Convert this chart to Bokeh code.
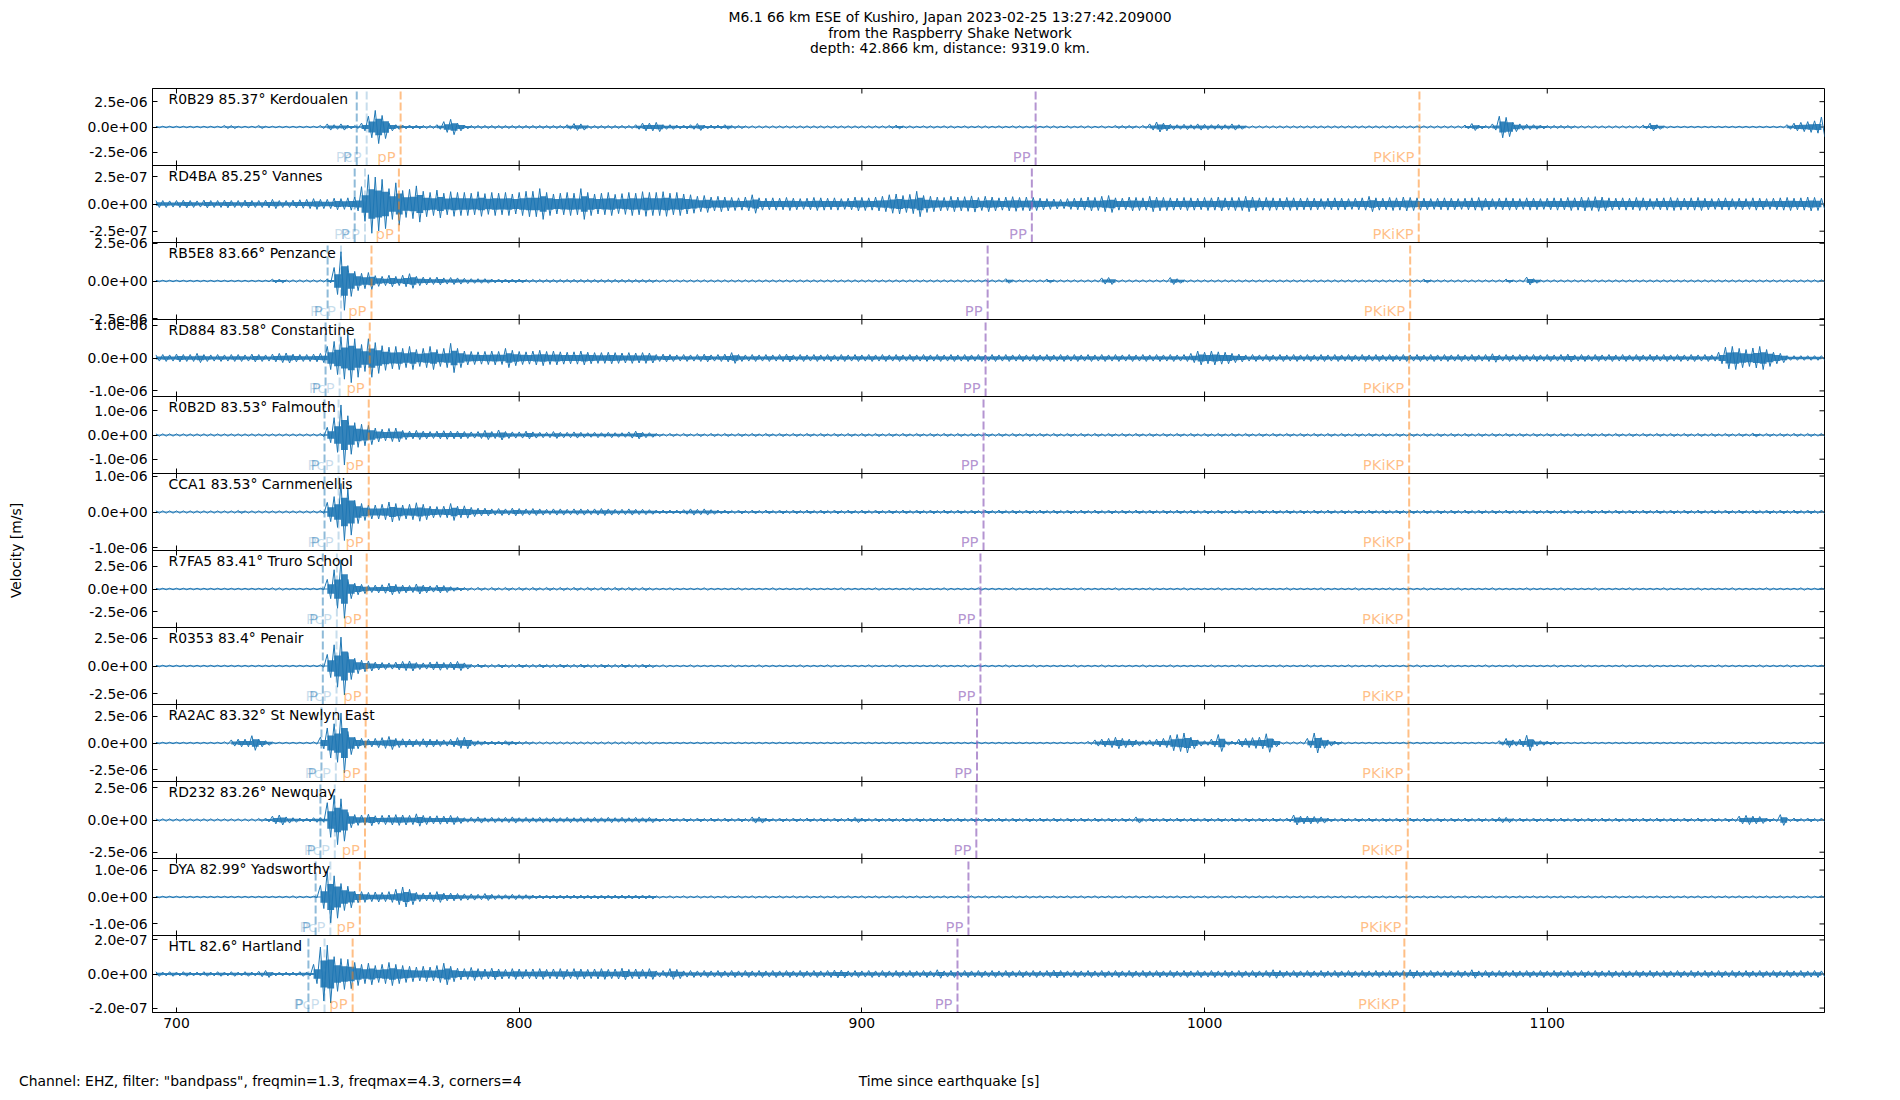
from bokeh.plotting import figure
from bokeh.models import Range1d, FixedTicker, CustomJSTickFormatter, LinearAxis, Span, Div
from bokeh.layouts import column
from bokeh.core.properties import value
from bokeh.embed import file_html
from bokeh.resources import INLINE

# ---------------- texts ----------------
title_lines = [
    "M6.1 66 km ESE of Kushiro, Japan 2023-02-25 13:27:42.209000",
    "from the Raspberry Shake Network",
    "depth: 42.866 km, distance: 9319.0 km.",
]
footer_left = 'Channel: EHZ, filter: "bandpass", freqmin=1.3, freqmax=4.3, corners=4'
x_label = "Time since earthquake [s]"
y_label = "Velocity [m/s]"

# ---------------- stations ----------------
stations = ["R0B29", "RD4BA", "RB5E8", "RD884", "R0B2D", "CCA1",
            "R7FA5", "R0353", "RA2AC", "RD232", "DYA", "HTL"]
distances = ["85.37", "85.25", "83.66", "83.58", "83.53", "83.53",
             "83.41", "83.4", "83.32", "83.26", "82.99", "82.6"]
places = ["Kerdoualen", "Vannes", "Penzance", "Constantine", "Falmouth", "Carnmenellis",
          "Truro School", "Penair", "St Newlyn East", "Newquay", "Yadsworthy", "Hartland"]

# half range of each panel's velocity axis [m/s] and its labelled tick value
half_range = [3.8e-6, 3.54e-7, 2.55e-6, 1.17e-6, 1.59e-6, 1.07e-6,
              4.25e-6, 3.44e-6, 3.63e-6, 2.99e-6, 1.43e-6, 2.26e-7]
tick_value = [2.5e-6, 2.5e-7, 2.5e-6, 1.0e-6, 1.0e-6, 1.0e-6,
              2.5e-6, 2.5e-6, 2.5e-6, 2.5e-6, 1.0e-6, 2.0e-7]

x_ticks = [700, 800, 900, 1000, 1100]

# phase arrival times [s since earthquake]
t_P = [752.6, 752.0, 744.1, 743.5, 743.2, 743.2, 742.7, 742.7, 742.3, 742.0, 740.6, 738.5]
t_PcP = [755.5, 755.0, 748.0, 747.6, 747.3, 747.3, 746.8, 746.7, 746.5, 746.2, 744.9, 743.2]
t_pP = [765.4, 764.9, 756.9, 756.4, 756.1, 756.1, 755.5, 755.5, 755.2, 755.0, 753.5, 751.4]
t_PP = [950.7, 949.6, 936.7, 936.1, 935.5, 935.5, 934.6, 934.6, 933.6, 933.4, 931.1, 927.9]
t_PKiKP = [1062.7, 1062.5, 1060.0, 1059.7, 1059.7, 1059.7, 1059.5, 1059.5, 1059.5, 1059.3, 1058.9, 1058.3]

# trace peak amplitude in each 2 s window (694 ... 1180 s), percent of panel half range
t_grid = list(range(694, 1181, 2))

env_R0B29 = [
    2, 2, 2, 2, 2, 2, 2, 2, 2, 2,
    4, 4, 2, 2, 2, 4, 2, 2, 2, 2,
    2, 2, 2, 2, 4, 8, 6, 8, 5, 4,
    10, 28, 43, 30, 10, 6, 5, 5, 5, 4,
    4, 6, 14, 20, 10, 5, 4, 4, 4, 4,
    4, 4, 4, 4, 4, 4, 4, 4, 4, 4,
    6, 9, 8, 4, 4, 4, 4, 4, 4, 4,
    6, 10, 10,
    12, 6, 6, 5, 5, 6, 9, 5, 5, 5,
    6, 4, 4, 3, 3, 3, 3, 3, 3, 3,
    3, 3, 3, 3, 3, 3, 3, 3, 3, 3,
    3, 3, 3, 3, 4, 5, 3, 3, 2, 3,
    3, 2, 3, 3, 2, 3, 2, 3, 3, 2,
    3, 2, 3, 3, 2, 3, 2, 3, 3, 2,
    3, 2, 3, 3, 2, 3, 2, 4, 4, 4,
    3, 4, 8, 13, 10, 7, 6, 7, 6, 8,
    7, 6, 7, 6, 8, 6, 3, 3, 3, 3,
    3, 3, 3, 3, 3, 3, 3, 3, 3, 3,
    3, 3, 3, 3, 3, 3, 3, 3, 3, 3,
    3, 3, 3, 3, 3, 3, 3, 3, 5, 9,
    5, 4, 8, 28, 25, 12, 8, 7, 6, 5,
    4, 4, 4, 4, 3, 3, 3, 3, 3, 3,
    3, 3, 3, 3, 5, 10, 6, 3, 2, 2,
    2, 2, 2, 2, 2, 2, 2, 2, 2, 2,
    2, 2, 2, 2, 2, 6, 10, 12, 14, 16,
    26]

env_RD4BA = [
    9, 9, 8, 9, 10, 9, 8, 10, 9, 9,
    10, 9, 9, 10, 9, 9, 10, 12, 9, 9,
    10, 11, 12, 14, 12, 12, 15, 14, 16, 18,
    45, 76, 70, 64, 40, 55, 35, 38, 47, 33,
    30, 36, 28, 32, 30, 30, 28, 32, 27, 30,
    28, 30, 26, 30, 33, 33, 40, 30, 26, 28,
    30, 28, 40, 30, 26, 28, 30, 25, 27, 30,
    28, 32, 30,
    30, 32, 28, 30, 26, 24, 20, 22, 18, 20,
    18, 17, 16, 18, 24, 16, 15, 16, 15, 17,
    15, 14, 15, 17, 16, 15, 16, 14, 15, 18,
    17, 16, 18, 20, 24, 26, 22, 25, 33, 22,
    20, 18, 17, 20, 18, 19, 21, 17, 20, 18,
    16, 18, 19, 17, 18, 17, 15, 14, 13, 12,
    14, 15, 16, 18, 17, 20, 22, 16, 15, 18,
    17, 16, 20, 18, 17, 16, 15, 17, 16, 15,
    17, 16, 18, 16, 17, 17,
    20, 18, 16, 17, 16, 15, 17, 16, 15, 16,
    15, 14, 15, 16, 15, 14, 15, 16, 20, 16,
    15, 17, 16, 18, 17, 16, 15, 14, 15, 16,
    15, 14, 15, 16, 17, 15, 14, 15, 16, 15,
    14, 16, 15, 14, 15, 16, 15, 17, 16, 18,
    17, 19, 18, 16, 15, 16, 15, 17, 16, 14,
    15, 16, 17, 16, 15, 16, 17, 15, 14, 15,
    16, 14, 15, 14, 16, 15, 14, 15, 16, 17,
    15, 16, 18, 17, 15]

env_RB5E8 = [
    2, 2, 2, 2, 2, 2, 2, 2, 2, 2,
    2, 2, 2, 2, 2, 2, 2, 5, 5, 3,
    3, 3, 3, 3, 3, 5, 35, 76, 40, 25,
    20, 22, 14, 12, 15, 12, 15, 19, 12, 10,
    9, 10, 8, 9, 8, 7, 6, 6, 6, 5,
    5, 5, 5, 5, 4, 4, 4, 4, 4, 4,
    4, 4, 4, 4, 4, 4, 4, 4, 4, 4,
    4, 4, 4,
    3, 3, 3, 3, 3, 3, 3, 3, 3, 3,
    3, 3, 3, 3, 3, 3, 3, 3, 3, 3,
    3, 3, 3, 3, 3, 3, 3, 3, 3, 3,
    3, 3, 3, 3, 3, 3, 3, 3, 3, 3,
    3, 3, 3, 3, 3, 3, 3, 3, 3, 3,
    3, 6, 3, 3, 3, 3, 3, 5, 3, 3,
    3, 3, 3, 3, 3, 8, 9, 3, 3, 3,
    3, 3, 3, 3, 3, 9, 6, 3, 3, 3,
    3, 3, 3, 3, 3, 3, 3, 3, 3, 3,
    3, 3, 3, 3, 3, 3, 3, 3, 3, 3,
    3, 3, 3, 3, 3, 3, 3, 3, 3, 3,
    3, 3, 5, 3, 3, 3, 3, 3, 3, 3,
    3, 3, 3, 3, 5, 3, 3, 10, 6, 3,
    3, 3, 3, 3, 3, 3, 3, 3, 3, 3,
    3, 3, 3, 3, 3, 3, 3, 3, 3, 3,
    3, 3, 3, 3, 3, 3, 3, 3, 3, 3,
    3, 3, 3, 3, 3, 3, 3, 3, 3, 3,
    3]

env_RD884 = [
    8, 9, 8, 10, 9, 9, 12, 9, 8, 9,
    8, 9, 9, 8, 10, 9, 8, 10, 12, 13,
    10, 9, 9, 10, 12, 30, 43, 55, 64, 50,
    35, 50, 40, 32, 28, 30, 25, 30, 22, 25,
    30, 22, 25, 38, 25, 18, 17, 16, 17, 18,
    17, 25, 20, 17, 16, 18, 20, 17, 18, 16,
    15, 16, 18, 15, 14, 14, 15, 14, 13, 14,
    13, 14, 13,
    9, 10, 9, 8, 9, 8, 9, 10, 8, 9,
    10, 14, 9, 8, 9, 8, 9, 8, 9, 10,
    8, 9, 8, 9, 8, 9, 8, 9, 8, 9,
    8, 9, 8, 9, 8, 9, 8, 9, 8, 9,
    8, 9, 8, 9, 8, 9, 8, 9, 8, 9,
    8, 9, 8, 9, 8, 9, 8, 9, 8, 9,
    8, 9, 8, 9, 8, 9, 8, 9, 8, 9,
    8, 9, 8, 9, 8, 9, 8, 9, 12, 18,
    15, 18, 16, 15, 12, 10, 8, 9, 8, 9,
    8, 9, 8, 9, 8, 9, 8, 9, 8, 9,
    8, 9, 8, 9, 8, 9, 8, 9, 8, 9,
    8, 9, 8, 9, 8, 9, 8, 9, 8, 9,
    8, 9, 11, 8, 9, 8, 9, 8, 9, 8,
    9, 8, 9, 10, 8, 9, 8, 9, 8, 9,
    8, 9, 8, 9, 8, 9, 8, 9, 8, 9,
    8, 9, 8, 9, 8, 15, 28, 30, 25, 22,
    26, 30, 22, 15, 12, 6, 6, 6, 6, 6,
    6]

env_R0B2D = [
    3, 3, 3, 3, 3, 3, 3, 3, 3, 3,
    3, 3, 3, 3, 3, 3, 3, 3, 3, 3,
    3, 3, 3, 3, 4, 20, 45, 78, 50, 32,
    28, 25, 18, 15, 17, 18, 12, 10, 12, 10,
    9, 10, 11, 10, 10, 9, 8, 9, 12, 9,
    13, 9, 8, 8, 10, 8, 7, 7, 9, 7,
    7, 8, 7, 6, 7, 6, 7, 6, 6, 8,
    10, 7, 6,
    4, 3, 4, 3, 4, 3, 4, 3, 4, 3,
    4, 3, 4, 3, 4, 3, 4, 3, 4, 3,
    4, 3, 4, 3, 4, 3, 4, 3, 4, 3,
    4, 3, 4, 3, 4, 3, 4, 3, 4, 3,
    4, 3, 4, 3, 4, 3, 4, 3, 4, 3,
    4, 3, 4, 3, 4, 3, 4, 3, 4, 3,
    4, 3, 4, 3, 4, 3, 4, 3, 4, 3,
    4, 3, 4, 3, 4, 3, 4, 3, 4, 3,
    4, 3, 4, 3, 4, 3, 4, 3, 4, 3,
    4, 3, 4, 3, 4, 3, 4, 3, 4, 3,
    4, 3, 4, 3, 4, 3, 4, 3, 4, 3,
    4, 3, 4, 3, 4, 3, 4, 3, 4, 3,
    4, 3, 4, 3, 4, 3, 4, 3, 4, 3,
    4, 3, 4, 3, 4, 3, 4, 3, 4, 3,
    4, 3, 4, 3, 4, 3, 4, 3, 4, 3,
    4, 3, 4, 3, 4, 3, 4, 3, 4, 3,
    5, 3, 4, 3, 4, 3, 4, 3, 4, 3,
    4]

env_CCA1 = [
    3, 3, 3, 3, 3, 3, 3, 3, 3, 3,
    3, 3, 4, 3, 3, 3, 3, 3, 3, 3,
    3, 3, 3, 3, 4, 25, 40, 74, 60, 30,
    22, 18, 18, 20, 26, 22, 18, 20, 24, 20,
    15, 14, 15, 22, 15, 16, 12, 10, 10, 8,
    9, 8, 10, 9, 8, 9, 8, 7, 8, 8,
    7, 8, 8, 7, 8, 9, 8, 7, 7, 8,
    7, 7, 6,
    5, 5, 5, 5, 6, 8, 7, 8, 6, 5,
    5, 4, 5, 4, 5, 4, 5, 4, 5, 4,
    5, 4, 5, 4, 5, 4, 5, 4, 5, 4,
    5, 4, 5, 4, 5, 4, 5, 4, 5, 4,
    5, 4, 5, 4, 5, 4, 5, 4, 5, 4,
    5, 4, 5, 4, 5, 4, 5, 4, 5, 4,
    5, 4, 5, 4, 5, 4, 5, 4, 5, 4,
    5, 4, 5, 4, 5, 4, 5, 4, 5, 4,
    5, 4, 5, 4, 5, 4, 5, 4, 5, 4,
    5, 4, 5, 4, 5, 4, 5, 4, 5, 4,
    5, 4, 5, 4, 5, 4, 5, 4, 5, 4,
    5, 4, 5, 4, 5, 4, 5, 4, 5, 4,
    5, 4, 5, 4, 5, 4, 5, 4, 5, 4,
    5, 4, 5, 4, 5, 4, 5, 4, 5, 4,
    5, 4, 5, 4, 5, 4, 5, 4, 5, 4,
    5, 4, 5, 4, 5, 4, 5, 4, 5, 4,
    5, 4, 5, 4, 5, 4, 5, 4, 5, 4,
    5]

env_R7FA5 = [
    2, 2, 2, 2, 2, 2, 2, 2, 2, 2,
    2, 2, 2, 2, 2, 2, 2, 3, 3, 2,
    2, 2, 2, 2, 2, 25, 50, 76, 25, 15,
    12, 9, 10, 11, 15, 12, 10, 9, 13, 10,
    8, 10, 9, 6, 5, 4, 3, 4, 3, 4,
    3, 4, 3, 4, 3, 4, 3, 4, 3, 4,
    3, 4, 3, 4, 3, 4, 3, 4, 3, 4,
    3, 4, 3,
    2, 2, 3, 2, 2, 2, 2, 3, 2, 2,
    2, 2, 3, 2, 2, 2, 2, 3, 2, 2,
    2, 2, 3, 2, 2, 2, 2, 3, 2, 2,
    2, 2, 3, 2, 2, 2, 2, 3, 2, 2,
    2, 2, 3, 2, 2, 2, 2, 3, 2, 2,
    2, 2, 3, 2, 2, 2, 2, 3, 2, 2,
    2, 2, 3, 2, 2, 2, 2, 3, 2, 2,
    2, 2, 3, 2, 2, 2, 2, 3, 2, 2,
    2, 2, 3, 2, 2, 2, 2, 3, 2, 2,
    2, 2, 3, 2, 2, 2, 2, 3, 2, 2,
    2, 2, 3, 2, 2, 2, 2, 3, 2, 2,
    2, 2, 3, 2, 2, 2, 2, 3, 2, 2,
    2, 2, 3, 2, 2, 2, 2, 3, 2, 2,
    2, 2, 3, 2, 2, 2, 2, 3, 2, 2,
    2, 2, 3, 2, 2, 2, 2, 3, 2, 2,
    2, 2, 3, 2, 2, 2, 2, 3, 2, 2,
    2, 2, 3, 2, 2, 2, 2, 3, 2, 2,
    2]

env_R0353 = [
    2, 2, 2, 2, 2, 2, 2, 2, 2, 2,
    2, 2, 2, 2, 2, 2, 2, 2, 2, 2,
    2, 2, 2, 2, 3, 30, 55, 75, 35, 20,
    15, 13, 10, 9, 8, 10, 12, 13, 9, 8,
    10, 11, 9, 10, 12, 8, 4, 5, 4, 4,
    5, 4, 4, 5, 4, 4, 5, 4, 4, 5,
    4, 4, 5, 4, 4, 5, 4, 4, 5, 4,
    4, 5, 4,
    2, 3, 2, 2, 2, 3, 2, 2, 2, 2,
    2, 3, 2, 2, 2, 3, 2, 2, 2, 2,
    2, 3, 2, 2, 2, 3, 2, 2, 2, 2,
    2, 3, 2, 2, 2, 3, 2, 2, 2, 2,
    2, 3, 2, 2, 2, 3, 2, 2, 2, 2,
    2, 3, 2, 2, 2, 3, 2, 2, 2, 2,
    2, 3, 2, 2, 2, 3, 2, 2, 2, 2,
    2, 3, 2, 2, 2, 3, 2, 2, 2, 2,
    2, 3, 2, 2, 2, 3, 2, 2, 2, 2,
    2, 3, 2, 2, 2, 3, 2, 2, 2, 2,
    2, 3, 2, 2, 2, 3, 2, 2, 2, 2,
    2, 3, 2, 2, 2, 3, 2, 2, 2, 2,
    2, 3, 2, 2, 2, 3, 2, 2, 2, 2,
    2, 3, 2, 2, 2, 3, 2, 2, 2, 2,
    2, 3, 2, 2, 2, 3, 2, 2, 2, 2,
    2, 3, 2, 2, 2, 3, 2, 2, 2, 2,
    2, 3, 2, 2, 2, 3, 2, 2, 2, 2,
    2]

env_RA2AC = [
    2, 2, 2, 2, 2, 2, 2, 2, 2, 2,
    3, 8, 10, 10, 19, 10, 6, 2, 2, 2,
    2, 2, 2, 3, 15, 39, 50, 78, 30, 15,
    12, 10, 12, 14, 17, 12, 11, 10, 9, 11,
    10, 9, 8, 10, 14, 15, 8, 6, 5, 5,
    5, 6, 5, 4, 4, 3, 3, 3, 3, 3,
    3, 3, 3, 3, 3, 3, 3, 3, 3, 3,
    3, 3, 3,
    2, 2, 2, 2, 2, 2, 2, 2, 2, 2,
    2, 2, 2, 2, 2, 2, 2, 2, 2, 2,
    2, 2, 2, 2, 2, 2, 2, 2, 2, 2,
    2, 2, 2, 2, 2, 2, 2, 2, 2, 2,
    2, 2, 2, 2, 2, 2, 2, 2, 2, 2,
    2, 2, 2, 2, 2, 2, 2, 2, 2, 2,
    2, 2, 2, 4, 8, 10, 12, 15, 12, 10,
    8, 6, 8, 10, 12, 20, 22, 26, 15, 8,
    6, 10, 22, 6, 5, 10, 12, 14, 15, 24,
    10, 3, 3, 3, 3, 12, 26, 14, 8, 5,
    3, 2, 2, 2, 2, 2, 2, 2, 2, 2,
    2, 2, 2, 2, 2, 2, 2, 2, 2, 2,
    2, 2, 2, 6, 12, 8, 10, 20, 8, 6,
    5, 4, 2, 2, 2, 2, 2, 2, 2, 2,
    2, 2, 2, 2, 2, 2, 2, 2, 2, 2,
    2, 2, 2, 2, 2, 2, 2, 2, 2, 2,
    2, 2, 2, 2, 2, 2, 2, 2, 2, 2,
    2]

env_RD232 = [
    3, 3, 3, 3, 3, 3, 3, 3, 3, 3,
    3, 3, 3, 3, 3, 4, 5, 10, 13, 8,
    6, 5, 5, 6, 6, 45, 64, 55, 20, 14,
    13, 15, 11, 12, 13, 14, 13, 12, 16, 12,
    10, 11, 10, 12, 9, 6, 7, 8, 6, 7,
    6, 7, 8, 6, 7, 6, 7, 6, 7, 6,
    7, 6, 7, 6, 7, 6, 7, 6, 7, 6,
    7, 6, 7,
    5, 4, 5, 4, 5, 4, 5, 4, 5, 4,
    5, 4, 5, 4, 8, 8, 5, 4, 5, 4,
    5, 4, 5, 4, 5, 4, 5, 4, 5, 7,
    5, 4, 5, 4, 5, 4, 5, 4, 5, 4,
    5, 4, 5, 4, 5, 4, 5, 4, 5, 4,
    5, 4, 5, 4, 5, 4, 5, 4, 5, 4,
    5, 4, 5, 4, 5, 4, 5, 4, 5, 4,
    8, 4, 5, 4, 5, 4, 5, 4, 5, 4,
    5, 4, 5, 4, 5, 4, 5, 4, 5, 4,
    5, 4, 5, 13, 10, 10, 9, 8, 5, 4,
    5, 4, 5, 4, 5, 4, 5, 4, 5, 4,
    5, 4, 5, 4, 5, 4, 5, 4, 5, 4,
    5, 4, 5, 7, 7, 4, 5, 4, 5, 4,
    5, 4, 5, 4, 5, 4, 5, 4, 5, 4,
    5, 4, 5, 4, 5, 4, 5, 4, 5, 4,
    5, 4, 5, 4, 5, 4, 5, 4, 10, 12,
    10, 9, 5, 4, 14, 4, 5, 4, 5, 4,
    5]

env_DYA = [
    2, 2, 2, 2, 2, 2, 2, 2, 2, 2,
    2, 2, 2, 2, 2, 2, 2, 2, 2, 2,
    3, 2, 2, 2, 30, 67, 55, 35, 28, 15,
    14, 12, 13, 12, 14, 20, 26, 20, 12, 10,
    12, 14, 10, 10, 9, 8, 8, 7, 9, 7,
    6, 6, 7, 6, 6, 5, 5, 5, 5, 5,
    5, 5, 5, 5, 5, 5, 5, 5, 5, 5,
    5, 5, 5,
    3, 2, 3, 2, 3, 2, 3, 2, 3, 2,
    3, 2, 3, 2, 3, 2, 3, 2, 3, 2,
    3, 2, 3, 2, 3, 2, 3, 2, 3, 2,
    3, 2, 3, 2, 3, 2, 3, 2, 3, 2,
    3, 2, 3, 2, 3, 2, 3, 2, 3, 2,
    3, 2, 3, 2, 3, 2, 3, 2, 3, 2,
    3, 2, 3, 2, 3, 2, 3, 2, 3, 2,
    3, 2, 3, 2, 3, 2, 3, 2, 3, 2,
    3, 2, 3, 2, 3, 2, 3, 2, 3, 2,
    3, 2, 3, 2, 3, 2, 3, 2, 3, 2,
    3, 2, 3, 2, 3, 2, 3, 2, 3, 2,
    3, 2, 3, 2, 3, 2, 3, 2, 3, 2,
    3, 2, 3, 2, 3, 2, 3, 2, 3, 2,
    3, 2, 3, 2, 3, 2, 3, 2, 3, 2,
    3, 2, 3, 2, 3, 2, 3, 2, 3, 2,
    3, 2, 3, 2, 3, 2, 3, 2, 3, 2,
    3, 2, 3, 2, 3, 2, 3, 2, 3, 2,
    3]

env_HTL = [
    6, 5, 6, 5, 6, 5, 5, 6, 5, 6,
    5, 6, 5, 6, 5, 7, 9, 5, 5, 5,
    5, 6, 5, 25, 70, 75, 45, 40, 38, 30,
    25, 28, 22, 25, 30, 25, 22, 20, 18, 20,
    18, 22, 28, 20, 15, 14, 17, 14, 13, 15,
    13, 12, 14, 13, 12, 13, 14, 12, 13, 14,
    12, 14, 13, 12, 13, 14, 12, 13, 15, 12,
    13, 12, 14,
    8, 9, 14, 12, 8, 9, 8, 9, 8, 9,
    8, 9, 8, 9, 8, 9, 8, 9, 8, 9,
    8, 9, 8, 9, 8, 9, 10, 10, 8, 9,
    8, 9, 8, 9, 8, 9, 8, 9, 8, 9,
    8, 11, 8, 9, 8, 9, 8, 9, 8, 9,
    8, 9, 8, 9, 8, 9, 8, 9, 10, 9,
    8, 9, 8, 9, 8, 9, 8, 9, 8, 9,
    8, 9, 8, 9, 8, 9, 8, 9, 8, 9,
    8, 9, 8, 9, 8, 9, 8, 9, 8, 9,
    11, 9, 8, 9, 8, 9, 8, 9, 8, 9,
    8, 9, 8, 9, 8, 9, 8, 9, 8, 9,
    11, 9, 8, 9, 8, 9, 8, 9, 8, 11,
    8, 9, 8, 9, 8, 9, 8, 9, 8, 9,
    8, 9, 8, 9, 8, 9, 8, 9, 8, 9,
    8, 9, 8, 9, 8, 9, 8, 9, 8, 9,
    8, 9, 8, 9, 8, 9, 8, 9, 8, 9,
    8, 9, 8, 9, 8, 9, 8, 9, 8, 9,
    8]

envs = [env_R0B29, env_RD4BA, env_RB5E8, env_RD884, env_R0B2D, env_CCA1,
        env_R7FA5, env_R0353, env_RA2AC, env_RD232, env_DYA, env_HTL]

# ---------------- style / layout ----------------
FONT = "DejaVu Sans"
FS = "13.9px"
FS_PHASE = "14.8px"
TRACE = "#1f77b4"
phases = [
    ("P", t_P, "#1f77b4", 0.5),
    ("PcP", t_PcP, "#1f77b4", 0.25),
    ("pP", t_pP, "#ff7f0e", 0.5),
    ("PP", t_PP, "#9467bd", 0.7),
    ("PKiKP", t_PKiKP, "#ff7f0e", 0.5),
]
X0, X1 = 693.0, 1180.9
n = len(stations)
W = 1892
HEAD_H, FOOT_H = 78, 50
FL, FW, FH = 152, 1672, 924      # frame left / width / height (px)
TOP_B, BOT_B = 10, 30            # main figure borders above / below the frame
PANEL_PX = FH / n
TICK_Y = 5.0 / PANEL_PX
TICK_X = 5.0 * (X1 - X0) / FW

p = figure(width=W, height=TOP_B + FH + BOT_B,
           x_range=Range1d(X0, X1), y_range=Range1d(0, n),
           x_axis_type=None, y_axis_type=None,
           output_backend="svg", toolbar_location=None,
           min_border_left=FL, min_border_right=W - FL - FW,
           min_border_top=TOP_B, min_border_bottom=BOT_B)
p.outline_line_color = "black"
p.outline_line_width = 1
p.background_fill_color = "white"

# y ticks: +tick, 0, -tick for each panel (values normalised to panel half range)
ytick_pos, ytick_lab = [], []
for j in range(n):
    c = n - j - 0.5
    for v in (tick_value[j], 0.0, -tick_value[j]):
        ytick_pos.append(c + 0.5 * v / half_range[j])
        ytick_lab.append(f"{v:.1e}")

fmt = CustomJSTickFormatter(args=dict(pos=ytick_pos, lab=ytick_lab), code="""
let b = 0, d = Infinity;
for (let i = 0; i < pos.length; i++) {
  const e = Math.abs(pos[i] - tick);
  if (e < d) { d = e; b = i; }
}
return lab[b];
""")

common = dict(major_tick_in=5, major_tick_out=0, major_tick_line_color="black",
              major_tick_line_width=1, minor_tick_line_color=None,
              axis_line_color="black", axis_line_width=1,
              major_label_text_font=FONT, major_label_text_font_size=FS,
              major_label_text_color="black", major_label_standoff=5)

yl = LinearAxis(ticker=FixedTicker(ticks=ytick_pos), formatter=fmt,
                axis_label=y_label, axis_label_standoff=61,
                axis_label_text_font=FONT, axis_label_text_font_size=FS,
                axis_label_text_font_style="normal", axis_label_text_color="black",
                **common)
p.add_layout(yl, "left")
xb = LinearAxis(ticker=FixedTicker(ticks=x_ticks), **common)
p.add_layout(xb, "below")

# panel separators
for k in range(1, n):
    p.add_layout(Span(location=k, dimension="width", line_color="black", line_width=1))

# inward x ticks on every panel boundary and the top edge
sx0, sy0, sy1 = [], [], []
for k in range(1, n + 1):
    for xt in x_ticks:
        sx0.append(xt)
        sy0.append(k - TICK_Y)
        sy1.append(min(k + TICK_Y, n))
p.segment(x0=sx0, y0=sy0, x1=sx0, y1=sy1, line_color="black", line_width=1)

# inward y ticks on the right edge
p.segment(x0=[X1 - TICK_X] * len(ytick_pos), y0=ytick_pos, x1=[X1] * len(ytick_pos),
          y1=ytick_pos, line_color="black", line_width=1)

# traces: dense core plus oscillating peaks
for j, a in enumerate(envs):
    c = n - j - 0.5
    m = min(len(a), len(t_grid))
    tt = t_grid[:m]
    core_hi = [c + 0.5 * 0.5 * v / 100.0 for v in a[:m]]
    core_lo = [c - 0.5 * 0.5 * v / 100.0 for v in a[:m]]
    p.varea_step(x=tt, y1=core_lo, y2=core_hi, step_mode="after",
                 fill_color=TRACE, fill_alpha=0.9)
    xs, ys = [], []
    for t, v in zip(tt, a):
        xs += [t, t + 1]
        ys += [c + 0.5 * v / 100.0, c - 0.5 * v / 100.0]
    p.line(xs, ys, line_color=TRACE, line_width=1)

# phase arrival lines and labels
bottoms = [n - j - 1 for j in range(n)]
tops = [n - j for j in range(n)]
for name, tt, col, al in phases:
    p.segment(x0=tt, y0=bottoms, x1=tt, y1=tops, line_color=col, line_alpha=al,
              line_width=2, line_dash="8 3")
    p.text(x=tt, y=bottoms, text=[name] * n, x_offset=-5, y_offset=-9,
           text_align="right", text_baseline="alphabetic",
           text_font=value(FONT), text_font_size=value(FS_PHASE),
           text_color=col, text_alpha=al)

# station labels
labels = [f"{s} {d}\u00b0 {pl}" for s, d, pl in zip(stations, distances, places)]
p.text(x=[X0] * n, y=tops, text=labels, x_offset=16, y_offset=10,
       text_align="left", text_baseline="alphabetic",
       text_font=value(FONT), text_font_size=value(FS), text_color="black")

# ---------------- title and footer texts ----------------
base = "position:absolute;white-space:nowrap;font-family:'DejaVu Sans';font-size:13.9px;color:black;line-height:16px;"
head_html = '<div style="position:relative;width:%dpx;height:%dpx;">' % (W, HEAD_H)
for line, cy in zip(title_lines, [17, 33, 48]):
    head_html += ('<span style="%sleft:950px;top:%dpx;transform:translate(-50%%,-50%%);">%s</span>'
                  % (base, cy, line))
head_html += "</div>"
head = Div(text=head_html, width=W, height=HEAD_H, margin=0)

foot_y = 1081 - (HEAD_H + TOP_B + FH + BOT_B)
foot_html = '<div style="position:relative;width:%dpx;height:%dpx;">' % (W, FOOT_H)
foot_html += ('<span style="%sleft:19px;top:%dpx;transform:translateY(-50%%);">%s</span>'
              % (base, foot_y, footer_left.replace('"', "&quot;")))
foot_html += ('<span style="%sleft:949px;top:%dpx;transform:translate(-50%%,-50%%);">%s</span>'
              % (base, foot_y, x_label))
foot_html += "</div>"
foot = Div(text=foot_html, width=W, height=FOOT_H, margin=0)

layout = column(head, p, foot, spacing=0)
open("out.html", "w").write(file_html(layout, INLINE))
